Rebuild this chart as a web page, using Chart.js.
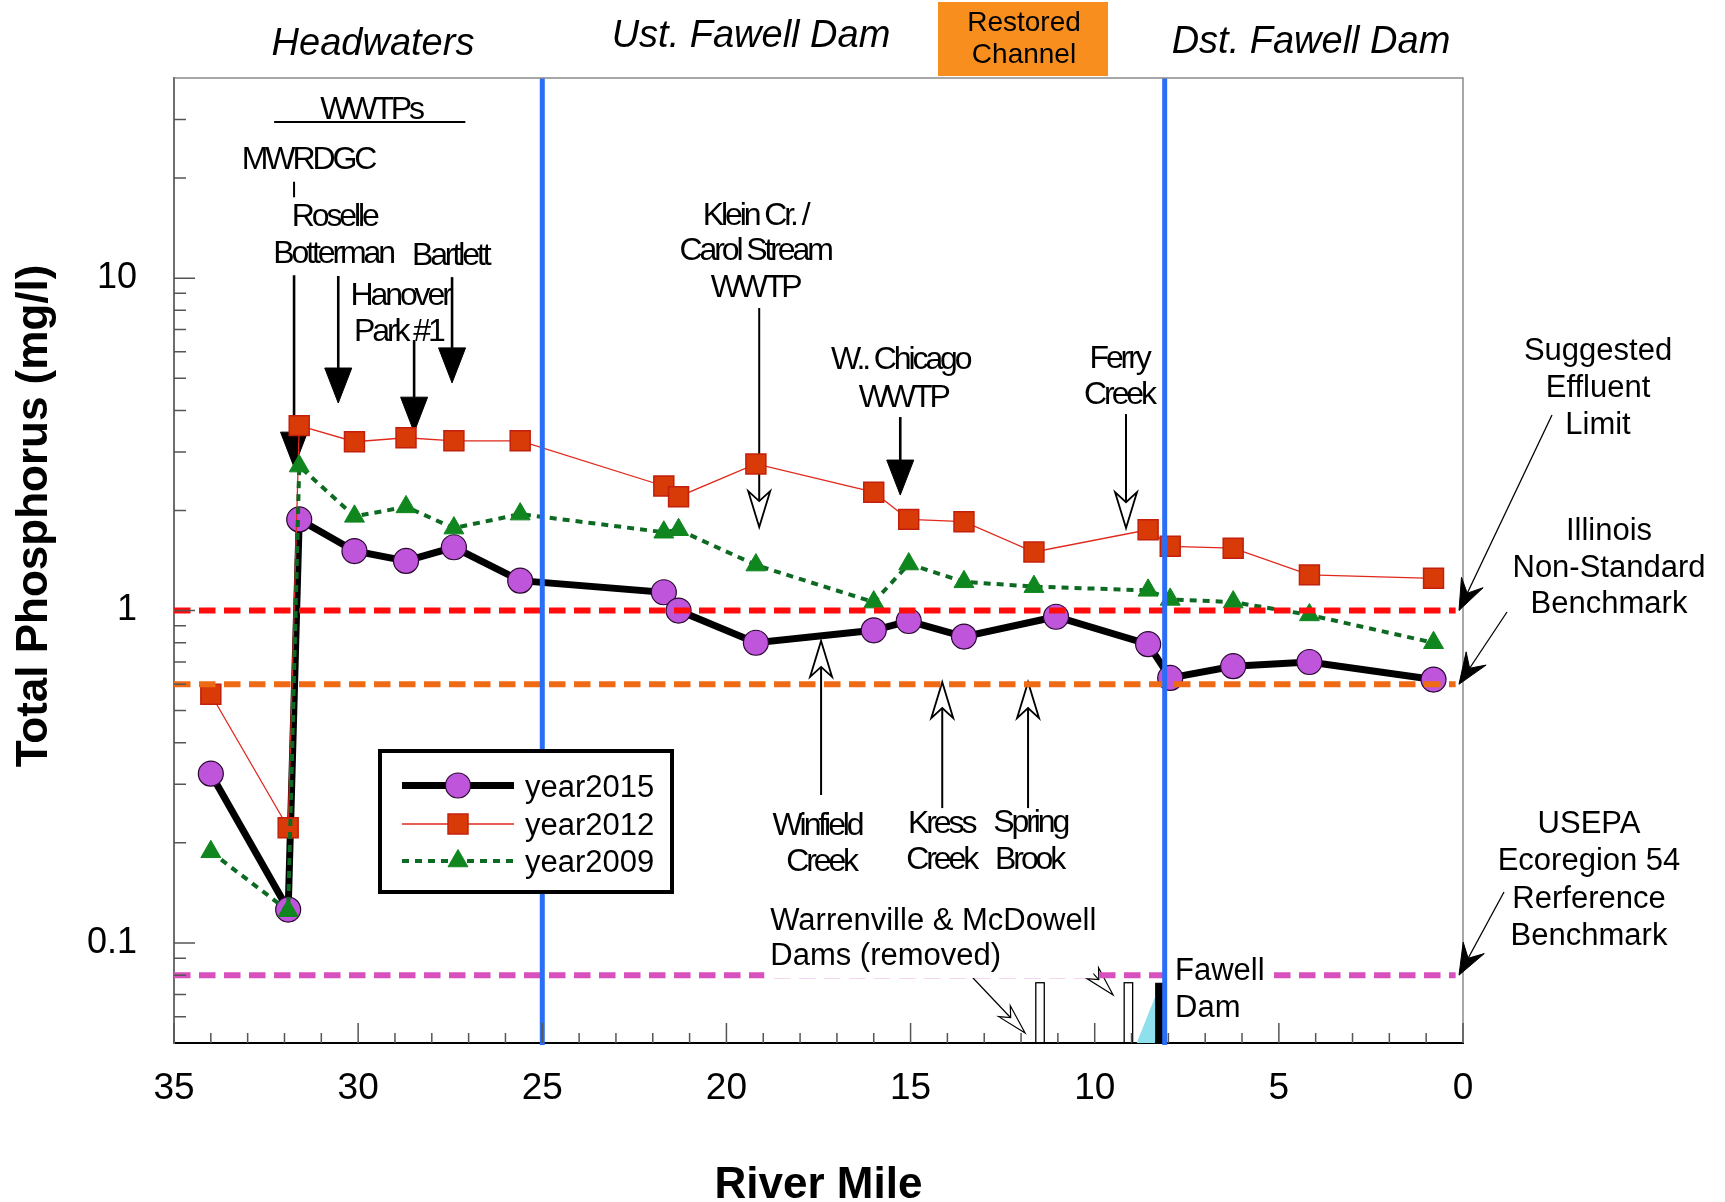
<!DOCTYPE html>
<html>
<head>
<meta charset="utf-8">
<script src="https://cdn.jsdelivr.net/npm/chart.js@4.4.1/dist/chart.umd.min.js"></script>
<style>
html, body { margin: 0; padding: 0; background: #fff; }
#wrap { width: 1725px; height: 1202px; }
</style>
</head>
<body>
<div id="wrap"><canvas id="chart" width="1725" height="1202"></canvas></div>
<script>
"use strict";

// river mile of each station (the 2015 station 14 sits ~0.6 mi further down)
const stationMiles = [34.0, 31.9, 31.6, 30.1, 28.7, 27.4, 25.6, 21.7, 21.3, 19.2, 16.0, 15.05, 13.55, 11.65, 8.55, 7.95, 6.24, 4.17, 0.8];
const stationMiles2015 = [34.0, 31.9, 31.6, 30.1, 28.7, 27.4, 25.6, 21.7, 21.3, 19.2, 16.0, 15.05, 13.55, 11.05, 8.55, 7.95, 6.24, 4.17, 0.8];

// total phosphorus, mg/l
const tp2015 = [0.323, 0.126, 1.88, 1.51, 1.41, 1.55, 1.23, 1.135, 1.0, 0.80, 0.872, 0.93, 0.835, 0.958, 0.792, 0.627, 0.68, 0.70, 0.62];
const tp2012 = [0.56, 0.222, 3.6, 3.22, 3.31, 3.24, 3.24, 2.37, 2.2, 2.76, 2.27, 1.88, 1.85, 1.5, 1.75, 1.56, 1.54, 1.28, 1.25];
const tp2009 = [0.188, 0.125, 2.72, 1.92, 2.05, 1.77, 1.95, 1.72, 1.75, 1.37, 1.06, 1.38, 1.22, 1.18, 1.15, 1.08, 1.06, 0.97, 0.80];

const seriesNames = ['year2015', 'year2012', 'year2009'];

// suggested effluent limit, Illinois non-standard, USEPA ecoregion 54 (mg/l)
const benchmarks = [1.0, 0.6, 0.08];
// section boundaries (river mile)
const sectionBounds = [25, 8.1];

const xTickValues = [35, 30, 25, 20, 15, 10, 5, 0];
const yTickValues = [0.1, 1, 10];
const yMinorTicks = [0.06, 0.07, 0.08, 0.09, 0.2, 0.3, 0.4, 0.5, 0.6, 0.7, 0.8, 0.9, 2, 3, 4, 5, 6, 7, 8, 9, 20, 30];

const FONT = '"Liberation Sans", Arial, Helvetica, sans-serif';

// annotations inside the plot, in river mile / mg/l
const plantLabels = [
    { t: 'WWTPs', m: 29.65, v: 32.5 },
    { t: 'MWRDGC', m: 31.36, v: 23.0 },
    { t: 'Roselle', m: 30.65, v: 15.5 },
    { t: 'Botterman', m: 30.68, v: 12.0 },
    { t: 'Bartlett', m: 27.5, v: 11.9 },
    { t: 'Hanover', m: 28.86, v: 9.02 },
    { t: 'Park #1', m: 28.91, v: 7.03 },
    { t: 'Klein Cr. /', m: 19.22, v: 15.7 },
    { t: 'Carol Stream', m: 19.22, v: 12.24 },
    { t: 'WWTP', m: 19.22, v: 9.47 },
    { t: 'W.. Chicago', m: 15.28, v: 5.79 },
    { t: 'WWTP', m: 15.2, v: 4.45 },
    { t: 'Ferry', m: 9.34, v: 5.83 },
    { t: 'Creek', m: 9.34, v: 4.54 },
    { t: 'Winfield', m: 17.54, v: 0.2294 },
    { t: 'Creek', m: 17.43, v: 0.1788 },
    { t: 'Kress', m: 14.17, v: 0.2326 },
    { t: 'Creek', m: 14.17, v: 0.1813 },
    { t: 'Spring', m: 11.75, v: 0.2343 },
    { t: 'Brook', m: 11.78, v: 0.1813 }
];
const plantArrows = [
    { m: 31.74, from: 10.2, to: 2.70, open: false },
    { m: 30.54, from: 10.15, to: 4.21, open: false },
    { m: 28.48, from: 6.51, to: 3.44, open: false },
    { m: 27.45, from: 10.07, to: 4.84, open: false },
    { m: 15.28, from: 3.82, to: 2.225, open: false },
    { m: 19.11, from: 8.13, to: 1.783, open: true },
    { m: 9.15, from: 3.90, to: 1.77, open: true },
    { m: 17.43, from: 0.2786, to: 0.81, open: true },
    { m: 14.14, from: 0.2545, to: 0.609, open: true },
    { m: 11.81, from: 0.2545, to: 0.609, open: true }
];
const removedDams = [{ from: 11.60, to: 11.37, top: 0.0759 }, { from: 9.20, to: 8.97, top: 0.0759 }];
const damArrows = [{ from: [13.33, 0.0790], to: [11.89, 0.0536] }, { from: [10.94, 0.1034], to: [9.50, 0.0697] }];

function arrow(ctx, x1, y1, x2, y2, o) {
    const a = Math.atan2(y2 - y1, x2 - x1);
    const ux = Math.cos(a), uy = Math.sin(a), px = -uy, py = ux;
    const bx = x2 - ux * o.head, by = y2 - uy * o.head;
    const nx = x2 - ux * o.head * o.notch, ny = y2 - uy * o.head * o.notch;
    ctx.save();
    ctx.strokeStyle = '#000';
    ctx.lineWidth = o.lw;
    ctx.beginPath();
    ctx.moveTo(x1, y1);
    ctx.lineTo(nx, ny);
    ctx.stroke();
    ctx.beginPath();
    ctx.moveTo(x2, y2);
    ctx.lineTo(bx + px * o.width / 2, by + py * o.width / 2);
    ctx.lineTo(nx, ny);
    ctx.lineTo(bx - px * o.width / 2, by - py * o.width / 2);
    ctx.closePath();
    ctx.fillStyle = o.open ? '#fff' : '#000';
    ctx.fill();
    ctx.lineWidth = o.headLw || 1.5;
    ctx.lineJoin = 'miter';
    ctx.stroke();
    ctx.restore();
}

function text(ctx, s, x, y, font, align, spacing) {
    ctx.save();
    ctx.font = font;
    ctx.fillStyle = '#000';
    ctx.textAlign = align || 'center';
    ctx.textBaseline = 'alphabetic';
    if (spacing) ctx.letterSpacing = spacing + 'px';
    ctx.fillText(s, x, y);
    ctx.restore();
}

function marker(ctx, style, x, y, r, fill, stroke, lw) {
    ctx.save();
    ctx.beginPath();
    if (style === 'circle') {
        ctx.arc(x, y, r, 0, Math.PI * 2);
    } else if (style === 'rect') {
        const s = r * Math.SQRT1_2;
        ctx.rect(x - s, y - s, 2 * s, 2 * s);
    } else {
        ctx.moveTo(x, y - r);
        ctx.lineTo(x + 0.866 * r, y + 0.5 * r);
        ctx.lineTo(x - 0.866 * r, y + 0.5 * r);
        ctx.closePath();
    }
    ctx.fillStyle = fill;
    ctx.fill();
    ctx.strokeStyle = stroke;
    ctx.lineWidth = lw;
    ctx.stroke();
    ctx.restore();
}

const decorations = {
    id: 'decorations',
    beforeDatasetsDraw(chart) {
        const ctx = chart.ctx, sx = chart.scales.x, sy = chart.scales.y;
        const X = m => sx.getPixelForValue(m), Y = v => sy.getPixelForValue(v);
        const bottom = chart.chartArea.bottom;
        ctx.save();
        // removed dams
        ctx.strokeStyle = '#000';
        ctx.lineWidth = 1.3;
        removedDams.forEach(d => {
            ctx.strokeRect(X(d.from), Y(d.top), X(d.to) - X(d.from), bottom - Y(d.top));
        });
        // Fawell dam pool + dam
        ctx.fillStyle = '#8EE0EC';
        ctx.beginPath();
        ctx.moveTo(X(8.86), bottom);
        ctx.lineTo(X(8.36), Y(0.0689));
        ctx.lineTo(X(8.36), bottom);
        ctx.closePath();
        ctx.fill();
        ctx.fillStyle = '#000';
        ctx.fillRect(X(8.36), Y(0.0759), X(8.12) - X(8.36), bottom - Y(0.0759));
        ctx.restore();

        plantArrows.forEach(a => {
            if (a.open) {
                arrow(ctx, X(a.m), Y(a.from), X(a.m), Y(a.to), { head: 36, width: 22, notch: 0.72, lw: 2, headLw: 1.8, open: true });
            } else {
                arrow(ctx, X(a.m), Y(a.from), X(a.m), Y(a.to), { head: 35, width: 27, notch: 1, lw: 2.6, headLw: 1, open: false });
            }
        });
        damArrows.forEach(a => {
            arrow(ctx, X(a.from[0]), Y(a.from[1]), X(a.to[0]), Y(a.to[1]), { head: 30, width: 16, notch: 0.7, lw: 1.2, headLw: 1.2, open: true });
        });
    },
    afterDatasetsDraw(chart) {
        const ctx = chart.ctx, sx = chart.scales.x, sy = chart.scales.y;
        const X = m => sx.getPixelForValue(m), Y = v => sy.getPixelForValue(v);
        const area = chart.chartArea;
        const benchColors = ['#FF0C0C', '#EF6A15', '#D84FBE'];

        ctx.save();
        // benchmark dashed lines
        ctx.lineWidth = 6;
        ctx.setLineDash([16.5, 8.5]);
        benchmarks.forEach((b, i) => {
            ctx.strokeStyle = benchColors[i];
            ctx.beginPath();
            ctx.moveTo(X(35), Y(b));
            ctx.lineTo(X(0.2), Y(b));
            ctx.stroke();
        });
        ctx.setLineDash([]);
        // section boundaries
        ctx.strokeStyle = '#2A6EF8';
        ctx.lineWidth = 5;
        sectionBounds.forEach(m => {
            ctx.beginPath();
            ctx.moveTo(X(m), area.top);
            ctx.lineTo(X(m), area.bottom + 2);
            ctx.stroke();
        });
        // frame top / right
        ctx.strokeStyle = '#8a8a8a';
        ctx.lineWidth = 1.5;
        ctx.beginPath();
        ctx.moveTo(area.left, area.top);
        ctx.lineTo(area.right, area.top);
        ctx.lineTo(area.right, area.bottom);
        ctx.stroke();
        // inward ticks
        ctx.strokeStyle = '#555';
        ctx.lineWidth = 1.5;
        ctx.beginPath();
        yTickValues.forEach(v => { ctx.moveTo(area.left, Y(v)); ctx.lineTo(area.left + 21, Y(v)); });
        yMinorTicks.forEach(v => { ctx.moveTo(area.left, Y(v)); ctx.lineTo(area.left + 12, Y(v)); });
        for (let m = 0; m <= 35; m++) {
            const len = m % 5 === 0 ? 20 : 10;
            ctx.moveTo(X(m), area.bottom);
            ctx.lineTo(X(m), area.bottom - len);
        }
        ctx.stroke();
        ctx.restore();

        // WWTPs underline, MWRDGC stub
        ctx.save();
        ctx.strokeStyle = '#000';
        ctx.lineWidth = 2;
        ctx.beginPath();
        ctx.moveTo(X(32.28), Y(29.5));
        ctx.lineTo(X(27.09), Y(29.5));
        ctx.moveTo(X(31.74), Y(19.5));
        ctx.lineTo(X(31.74), Y(17.5));
        ctx.stroke();
        ctx.restore();

        plantLabels.forEach(l => {
            text(ctx, l.t, X(l.m), Y(l.v) + 11.5, '32px ' + FONT, 'center', -3.1);
        });

        // Warrenville / McDowell note on a white block
        const f31 = '31px ' + FONT;
        ctx.save();
        ctx.font = f31;
        const wLeft = X(18.81);
        const w1 = ctx.measureText('Warrenville & McDowell').width;
        ctx.fillStyle = '#fff';
        ctx.fillRect(wLeft - 6, Y(0.1094) - 26, w1 + 3, Y(0.0858) - Y(0.1094) + 39);
        const fw = ctx.measureText('Fawell').width;
        ctx.fillRect(X(7.82) - 6, Y(0.0773) - 26, fw + 8, 38);
        ctx.restore();
        text(ctx, 'Warrenville & McDowell', wLeft, Y(0.1094), f31, 'left');
        text(ctx, 'Dams (removed)', wLeft, Y(0.0858), f31, 'left');
        text(ctx, 'Fawell', X(7.82), Y(0.0773), f31, 'left');
        text(ctx, 'Dam', X(7.82), Y(0.0598), f31, 'left');

        // notes on the right side
        const sideNotes = [
            { lines: ['Suggested', 'Effluent', 'Limit'], cx: 1598, base: [359.5, 396.5, 433.5], from: [1552, 415], target: benchmarks[0] },
            { lines: ['Illinois', 'Non-Standard', 'Benchmark'], cx: 1609, base: [540, 577, 613], from: [1507, 612], target: benchmarks[1] },
            { lines: ['USEPA', 'Ecoregion 54', 'Rerference', 'Benchmark'], cx: 1589, base: [833, 870, 908, 945], from: [1504, 892], target: benchmarks[2] }
        ];
        sideNotes.forEach(n => {
            n.lines.forEach((s, i) => text(ctx, s, n.cx, n.base[i], f31, 'center'));
            arrow(ctx, n.from[0], n.from[1], area.right - 4, Y(n.target), { head: 31, width: 24, notch: 0.62, lw: 1.3, headLw: 1, open: false });
        });

        // section headers
        const fi = 'italic 38px ' + FONT;
        text(ctx, 'Headwaters', 373, 55, fi, 'center');
        text(ctx, 'Ust. Fawell Dam', 751, 46.5, fi, 'center');
        text(ctx, 'Dst. Fawell Dam', 1311, 52.5, fi, 'center');
        ctx.save();
        ctx.fillStyle = '#F78E1E';
        ctx.fillRect(938, 2, 170, 74);
        ctx.restore();
        text(ctx, 'Restored', 1024, 30.5, '28px ' + FONT, 'center');
        text(ctx, 'Channel', 1024, 63, '28px ' + FONT, 'center');

        // y axis title
        ctx.save();
        ctx.translate(46.5, 516);
        ctx.rotate(-Math.PI / 2);
        text(ctx, 'Total Phosphorus (mg/l)', 0, 0, 'bold 44px ' + FONT, 'center');
        ctx.restore();

        // legend
        ctx.save();
        ctx.fillStyle = '#fff';
        ctx.fillRect(380, 751, 292, 141);
        ctx.strokeStyle = '#000';
        ctx.lineWidth = 4;
        ctx.strokeRect(380, 751, 292, 141);
        const rowsY = [785.5, 824, 861];
        chart.data.datasets.forEach((ds, i) => {
            const yy = rowsY[i];
            ctx.save();
            ctx.strokeStyle = ds.borderColor;
            ctx.lineWidth = ds.borderWidth;
            ctx.setLineDash(ds.borderDash || []);
            ctx.beginPath();
            ctx.moveTo(402, yy);
            ctx.lineTo(514, yy);
            ctx.stroke();
            ctx.restore();
            marker(ctx, ds.pointStyle, 458, yy, ds.pointRadius, ds.pointBackgroundColor, ds.pointBorderColor, ds.pointBorderWidth);
            text(ctx, ds.label, 525, yy + 11, f31, 'left');
        });
        ctx.restore();
    }
};

const toXY = (miles, vals) => miles.map((m, i) => ({ x: m, y: vals[i] }));

const chart = new Chart(document.getElementById('chart'), {
    type: 'line',
    data: {
        datasets: [
            {
                label: seriesNames[0], data: toXY(stationMiles2015, tp2015), order: 2,
                borderColor: '#000', borderWidth: 7, tension: 0,
                pointStyle: 'circle', pointRadius: 12.5, pointBackgroundColor: '#BE55DA',
                pointBorderColor: '#2a0830', pointBorderWidth: 1.2
            },
            {
                label: seriesNames[1], data: toXY(stationMiles, tp2012), order: 1,
                borderColor: '#E0281C', borderWidth: 1.3, tension: 0,
                pointStyle: 'rect', pointRadius: 14.1, pointBackgroundColor: '#D83A08',
                pointBorderColor: '#C2200C', pointBorderWidth: 1.5
            },
            {
                label: seriesNames[2], data: toXY(stationMiles, tp2009), order: 0,
                borderColor: '#0E6A22', borderWidth: 4, borderDash: [7, 6], tension: 0,
                pointStyle: 'triangle', pointRadius: 11.5, pointBackgroundColor: '#10861F',
                pointBorderColor: '#10861F', pointBorderWidth: 1
            }
        ]
    },
    options: {
        responsive: false,
        animation: false,
        devicePixelRatio: 1,
        layout: { padding: { left: 0, top: 78, right: 262, bottom: 0 } },
        plugins: { legend: { display: false }, tooltip: { enabled: false } },
        scales: {
            x: {
                type: 'linear', position: 'bottom', reverse: true, min: 0, max: 35,
                afterFit(s) { s.height = 159; },
                afterBuildTicks(s) { s.ticks = xTickValues.map(v => ({ value: v })); },
                ticks: {
                    callback: v => String(v), color: '#000', padding: 23.5,
                    maxRotation: 0, autoSkip: false, font: { family: FONT, size: 37 }
                },
                grid: { display: false, drawTicks: false },
                border: { display: true, color: '#000', width: 2 },
                title: {
                    display: true, text: 'River Mile', color: '#000',
                    font: { family: FONT, size: 44, weight: 'bold', lineHeight: 0.75 },
                    padding: { top: 0, bottom: 0 }
                }
            },
            y: {
                type: 'logarithmic', position: 'left', min: 0.05, max: 40,
                afterFit(s) { s.width = 174; },
                afterBuildTicks(s) { s.ticks = yTickValues.map(v => ({ value: v })); },
                ticks: {
                    callback: v => (v < 1 ? v.toFixed(1) : String(v)), color: '#000', padding: 37,
                    autoSkip: false, font: { family: FONT, size: 36 }
                },
                grid: { display: false, drawTicks: false },
                border: { display: true, color: '#6e6e6e', width: 2 }
            }
        }
    },
    plugins: [decorations]
});
</script>
</body>
</html>
